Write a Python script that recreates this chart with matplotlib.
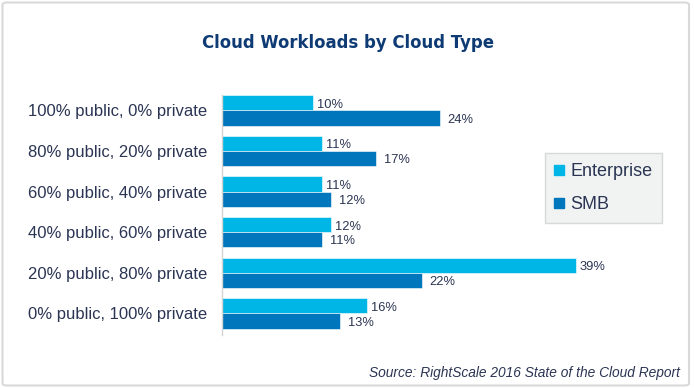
import matplotlib

matplotlib.use("Agg")
import matplotlib.pyplot as plt
from matplotlib.lines import Line2D
from matplotlib.patches import FancyBboxPatch
import numpy as np

categories = [
    "100% public, 0% private",
    "80% public, 20% private",
    "60% public, 40% private",
    "40% public, 60% private",
    "20% public, 80% private",
    "0% public, 100% private",
]
enterprise = [10, 11, 11, 12, 39, 16]
smb = [24, 17, 12, 11, 22, 13]
series_names = ["Enterprise", "SMB"]

ENT_COLOR = "#00b6e6"
SMB_COLOR = "#0077bc"
TEXT_COLOR = "#2b3553"
TITLE_COLOR = "#0f3b75"

plt.rcParams["font.family"] = ["Liberation Sans", "DejaVu Sans"]

W, H = 694, 388
PX_PER_PCT = 9.07
fig = plt.figure(figsize=(W / 100, H / 100), dpi=100)

# axes placed in pixel terms: spine x=222, y from 95 to 335
ax = fig.add_axes([222 / W, 1 - 335 / H, (640 - 222) / W, 240 / H])

y = np.arange(len(categories))
bh = 0.375
ax.barh(y - bh / 2, enterprise, height=bh, color=ENT_COLOR, edgecolor="white", lw=0.4)
ax.barh(y + bh / 2, smb, height=bh, color=SMB_COLOR, edgecolor="white", lw=0.4)

# value labels, nudged a touch below bar centre like the original
for yi, v in zip(y, enterprise):
    ax.text(v + 4 / PX_PER_PCT, yi - bh / 2 + 0.05, f"{v}%", va="center", ha="left",
            fontsize=9.3, color=TEXT_COLOR)
for yi, v in zip(y, smb):
    ax.text(v + 8 / PX_PER_PCT, yi + bh / 2 + 0.04, f"{v}%", va="center", ha="left",
            fontsize=9.3, color=TEXT_COLOR)

ax.set_xlim(0, 418 / PX_PER_PCT)
ax.set_ylim(len(categories) - 1 + 0.53, -0.38)
ax.set_yticks(y)
ax.set_yticklabels(categories, fontsize=12, color=TEXT_COLOR)
ax.tick_params(axis="y", length=0, pad=10.4)
ax.set_xticks([])
for s in ["top", "right", "bottom"]:
    ax.spines[s].set_visible(False)
ax.spines["left"].set_color("#d4d4d4")
ax.spines["left"].set_linewidth(1.0)

handles = [
    Line2D([0], [0], marker="s", ls="none", color=c, markersize=7)
    for c in (ENT_COLOR, SMB_COLOR)
]
leg = fig.legend(
    handles,
    series_names,
    loc="upper left",
    bbox_to_anchor=(545 / W, 1 - 153 / H),
    fontsize=13,
    frameon=True,
    fancybox=False,
    handlelength=0.5,
    handletextpad=0.35,
    labelspacing=0.9,
    borderpad=0.55,
    borderaxespad=0,
)
for t in leg.get_texts():
    t.set_color(TEXT_COLOR)
frame = leg.get_frame()
frame.set_facecolor("#eef0f1")
frame.set_edgecolor("#d0d0d0")
frame.set_linewidth(1.0)

fig.text(348 / W, 1 - 42.5 / H, "Cloud Workloads by Cloud Type", ha="center", va="center",
         fontsize=11.9, fontweight="bold", color=TITLE_COLOR, family="DejaVu Sans")
fig.text(680 / W, 1 - 373 / H, "Source: RightScale 2016 State of the Cloud Report",
         ha="right", va="center", fontsize=9.9, style="italic", color=TEXT_COLOR)

border = FancyBboxPatch((2.5 / W, 2.5 / H), (689 - 2.5) / W, (385.5 - 2.5) / H,
                        boxstyle="round,pad=0,rounding_size=0.006",
                        transform=fig.transFigure, fill=False,
                        edgecolor="#d9d9d9", lw=1.5)
fig.patches.append(border)

fig.savefig("out.png", dpi=100)
